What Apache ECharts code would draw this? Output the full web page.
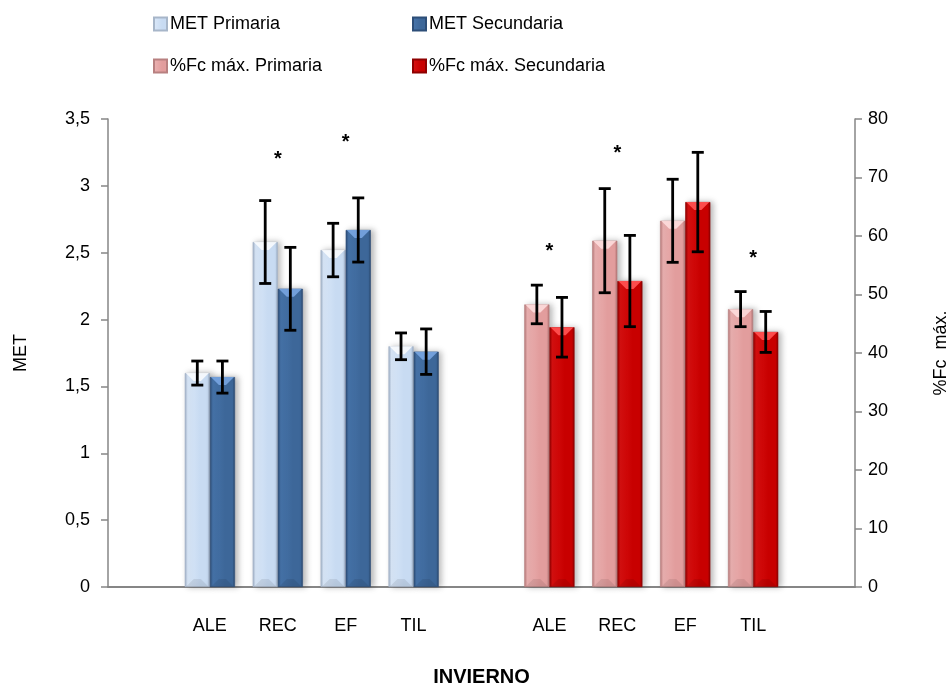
<!DOCTYPE html>
<html>
<head>
<meta charset="utf-8">
<script src="https://cdn.jsdelivr.net/npm/echarts@6/dist/echarts.min.js"></script>
<style>
  html, body { margin: 0; padding: 0; background: #fff; overflow: hidden; }
  #chart { width: 950px; height: 686px; }
</style>
</head>
<body>
<div id="chart"></div>
<script>
// Activity groups shown in each block
const groups = ['ALE', 'REC', 'EF', 'TIL'];

// MET (left axis)
const metPrimaria = [1.60, 2.58, 2.52, 1.80];
const metPrimariaErr = [0.09, 0.31, 0.20, 0.10];
const metSecundaria = [1.57, 2.23, 2.67, 1.76];
const metSecundariaErr = [0.12, 0.31, 0.24, 0.17];

// %Fc máx. (right axis)
const fcPrimaria = [48.3, 59.2, 62.6, 47.5];
const fcPrimariaErr = [3.3, 8.9, 7.1, 3.0];
const fcSecundaria = [44.4, 52.3, 65.8, 43.6];
const fcSecundariaErr = [5.1, 7.8, 8.5, 3.5];

// Significance marks (height on each axis; null = none)
const metStars = [null, 3.22, 3.35, null];
const fcStars = [57.9, 74.7, null, 56.6];

// Axis tick ranges
const metTicks = { min: 0, max: 3.5, interval: 0.5 };
const fcTicks = { min: 0, max: 80, interval: 10 };

// Category slots: empty, MET block, empty, %Fc block, empty
const metSlots = [1, 2, 3, 4];
const fcSlots = [6, 7, 8, 9];
const slotLabels = ['', ...groups, '', ...groups, ''];

const BAR_RATIO = 0.37;
const FONT = '"Liberation Sans", Arial, sans-serif';

function padded(values, slots) {
  const arr = slotLabels.map(() => '-');
  slots.forEach((s, i) => { arr[s] = values[i]; });
  return arr;
}
function triples(values, errs, slots) {
  return slots.map((s, i) => [s, values[i], errs[i]]);
}
function starData(values, slots) {
  const out = [];
  slots.forEach((s, i) => { if (values[i] != null) out.push([s, values[i]]); });
  return out;
}

function grad(edgeL, light, mid, edgeR) {
  return new echarts.graphic.LinearGradient(0, 0, 1, 0, [
    { offset: 0, color: edgeL },
    { offset: 0.12, color: light },
    { offset: 0.6, color: mid },
    { offset: 0.9, color: mid },
    { offset: 1, color: edgeR }
  ]);
}

const styles = {
  metP: { fill: grad('#9aabc2', '#d9e7f8', '#c8dbf2', '#95a7bf'), bevel: 'rgba(255,255,255,0.8)', border: '#a7b6c9' },
  metS: { fill: grad('#2b4b73', '#4673a9', '#3d6799', '#28456a'), bevel: 'rgba(120,165,225,0.9)', border: '#2d4e78' },
  fcP: { fill: grad('#b27474', '#eab0b0', '#e29d9d', '#ad7070'), bevel: 'rgba(255,225,225,0.85)', border: '#b88080' },
  fcS: { fill: grad('#8a0000', '#d61010', '#c80000', '#860000'), bevel: 'rgba(255,80,80,0.95)', border: '#8e0000' }
};

function barSeries(name, values, slots, st, axis) {
  return {
    name: name,
    type: 'bar',
    xAxisIndex: axis,
    yAxisIndex: axis,
    data: padded(values, slots),
    barWidth: (BAR_RATIO * 100) + '%',
    barGap: '0%',
    itemStyle: {
      color: st.fill,
      borderColor: st.border,
      borderWidth: 0.6,
      shadowColor: 'rgba(0,0,0,0.28)',
      shadowBlur: 6,
      shadowOffsetX: 3,
      shadowOffsetY: 0
    },
    emphasis: { disabled: true },
    z: 2
  };
}

// Light top face and faint bottom face on each bar
function bevelSeries(values, slots, side, st, axis) {
  return {
    type: 'custom',
    xAxisIndex: axis,
    yAxisIndex: axis,
    silent: true,
    z: 3,
    data: slots.map((s, i) => [s, values[i]]),
    encode: { x: 0, y: 1 },
    renderItem: function (params, api) {
      const bw = api.size([1, 0])[0] * BAR_RATIO;
      const p = api.coord([api.value(0), api.value(1)]);
      const base = api.coord([api.value(0), 0]);
      const cx = p[0] + side * bw / 2;
      const x0 = cx - bw / 2 + 1, x1 = cx + bw / 2 - 1;
      const h = 8;
      return {
        type: 'group',
        children: [
          {
            type: 'polygon',
            shape: { points: [[x0, p[1]], [x1, p[1]], [x1 - h, p[1] + h], [x0 + h, p[1] + h]] },
            style: { fill: st.bevel }
          },
          {
            type: 'polygon',
            shape: { points: [[x0, base[1]], [x1, base[1]], [x1 - h, base[1] - h], [x0 + h, base[1] - h]] },
            style: { fill: 'rgba(0,0,0,0.08)' }
          }
        ]
      };
    }
  };
}

function errorSeries(values, errs, slots, side, axis) {
  return {
    type: 'custom',
    xAxisIndex: axis,
    yAxisIndex: axis,
    silent: true,
    z: 5,
    data: triples(values, errs, slots),
    encode: { x: 0, y: 1 },
    renderItem: function (params, api) {
      const bw = api.size([1, 0])[0] * BAR_RATIO;
      const x = api.value(0), v = api.value(1), e = api.value(2);
      const hi = api.coord([x, v + e]);
      const lo = api.coord([x, v - e]);
      const cx = hi[0] + side * bw / 2;
      const cap = 6;
      const ls = { stroke: '#000', lineWidth: 2.8 };
      return {
        type: 'group',
        children: [
          { type: 'line', shape: { x1: cx, y1: hi[1], x2: cx, y2: lo[1] }, style: ls },
          { type: 'line', shape: { x1: cx - cap, y1: hi[1], x2: cx + cap, y2: hi[1] }, style: ls },
          { type: 'line', shape: { x1: cx - cap, y1: lo[1], x2: cx + cap, y2: lo[1] }, style: ls }
        ]
      };
    }
  };
}

function starSeries(values, slots, axis) {
  return {
    type: 'custom',
    xAxisIndex: axis,
    yAxisIndex: axis,
    silent: true,
    z: 6,
    data: starData(values, slots),
    encode: { x: 0, y: 1 },
    renderItem: function (params, api) {
      const p = api.coord([api.value(0), api.value(1)]);
      return {
        type: 'text',
        x: p[0], y: p[1] + 3,
        style: { text: '*', fill: '#000', font: 'bold 20px ' + FONT, align: 'center', verticalAlign: 'middle' }
      };
    }
  };
}

function legend(name, left, top) {
  return {
    data: [name],
    left: left, top: top,
    padding: 0,
    icon: 'rect',
    itemWidth: 13, itemHeight: 13,
    itemGap: 5,
    selectedMode: false,
    textStyle: { fontSize: 18, fontFamily: FONT, color: '#000', padding: [0, 0, 0, -2] }
  };
}

const axisLineStyle = { color: '#868686', width: 1.5 };

const catAxis = (show) => ({
  type: 'category',
  data: slotLabels,
  show: show,
  gridIndex: 0,
  axisTick: { show: false },
  axisLine: { show: show, lineStyle: { color: '#868686', width: 2 } },
  axisLabel: { show: show, color: '#000', fontSize: 18, fontFamily: FONT, margin: 30, interval: 0 },
  name: show ? 'INVIERNO' : '',
  nameLocation: 'middle',
  nameGap: 80,
  nameTextStyle: { fontSize: 20, fontWeight: 'bold', fontFamily: FONT, color: '#000' }
});

const option = {
  animation: false,
  backgroundColor: '#fff',
  grid: { left: 108, right: 95, top: 119, bottom: 99, containLabel: false, outerBoundsMode: 'none' },
  legend: [
    legend('MET Primaria', 153, 15),
    legend('MET Secundaria', 412, 15),
    legend('%Fc máx. Primaria', 153, 57),
    legend('%Fc máx. Secundaria', 412, 57)
  ],
  xAxis: [catAxis(true), catAxis(false)],
  yAxis: [
    {
      type: 'value',
      position: 'left',
      min: metTicks.min, max: metTicks.max, interval: metTicks.interval,
      splitLine: { show: false },
      axisLine: { show: true, lineStyle: axisLineStyle },
      axisTick: { show: true, length: 7, lineStyle: axisLineStyle },
      axisLabel: {
        color: '#000', fontSize: 18, fontFamily: FONT, margin: 18,
        formatter: (v) => String(v).replace('.', ',')
      },
      name: 'MET',
      nameLocation: 'middle',
      nameRotate: 90,
      nameGap: 78,
      nameTextStyle: { fontSize: 18, fontFamily: FONT, color: '#000' }
    },
    {
      type: 'value',
      position: 'right',
      min: fcTicks.min, max: fcTicks.max, interval: fcTicks.interval,
      splitLine: { show: false },
      axisLine: { show: true, lineStyle: axisLineStyle },
      axisTick: { show: true, length: 7, lineStyle: axisLineStyle },
      axisLabel: { color: '#000', fontSize: 18, fontFamily: FONT, margin: 13 },
      name: '%Fc  máx.',
      nameLocation: 'middle',
      nameRotate: 90,
      nameGap: 77,
      nameTextStyle: { fontSize: 18, fontFamily: FONT, color: '#000' }
    }
  ],
  series: [
    barSeries('MET Primaria', metPrimaria, metSlots, styles.metP, 0),
    barSeries('MET Secundaria', metSecundaria, metSlots, styles.metS, 0),
    barSeries('%Fc máx. Primaria', fcPrimaria, fcSlots, styles.fcP, 1),
    barSeries('%Fc máx. Secundaria', fcSecundaria, fcSlots, styles.fcS, 1),
    bevelSeries(metPrimaria, metSlots, -1, styles.metP, 0),
    bevelSeries(metSecundaria, metSlots, 1, styles.metS, 0),
    bevelSeries(fcPrimaria, fcSlots, -1, styles.fcP, 1),
    bevelSeries(fcSecundaria, fcSlots, 1, styles.fcS, 1),
    errorSeries(metPrimaria, metPrimariaErr, metSlots, -1, 0),
    errorSeries(metSecundaria, metSecundariaErr, metSlots, 1, 0),
    errorSeries(fcPrimaria, fcPrimariaErr, fcSlots, -1, 1),
    errorSeries(fcSecundaria, fcSecundariaErr, fcSlots, 1, 1),
    starSeries(metStars, metSlots, 0),
    starSeries(fcStars, fcSlots, 1)
  ]
};

const chart = echarts.init(document.getElementById('chart'), null, { renderer: 'canvas' });
chart.setOption(option);
</script>
</body>
</html>
